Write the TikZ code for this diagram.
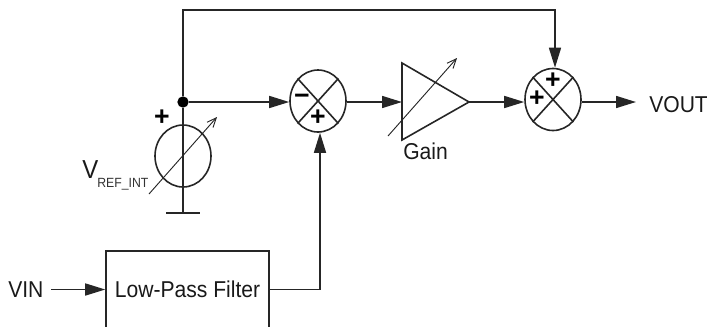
\documentclass[tikz,border=0pt]{standalone}
\usepackage{fontspec}
\setmainfont[FakeStretch=0.92]{Liberation Sans}
\newfontfamily\signfont{Liberation Sans}
\usetikzlibrary{arrows.meta,shapes.geometric}
\tikzset{
  wire/.style={line width=1.2pt,draw=black!85},
  flow/.style={wire,-{Triangle[length=15pt,width=9pt,sep=0pt]}},
  thin wire/.style={line width=0.7pt,draw=black!85,-{Straight Barb[length=7pt,width=6pt]}},
  sumnode/.style={ellipse,draw=black!85,line width=1.2pt,minimum width=42pt,minimum height=46.5pt,inner sep=0pt},
  lbl/.style={font=\fontsize{17.2}{20}\selectfont,inner sep=0pt,text=black!90},
  sign/.style={font=\signfont\fontsize{20}{22}\selectfont,inner sep=0pt},
  dotnode/.style={circle,fill=black,inner sep=0pt,minimum size=8.5pt}
}
\begin{document}
\begin{tikzpicture}[x=0.75pt,y=-0.75pt]
\useasboundingbox (0,0) rectangle (707,326);
\clip (0,0) rectangle (707,326);
% nodes
\node[dotnode] (dot) at (183,102) {};
\node[sumnode] (src) at (183,156) {};
\node[sumnode] (sum1) at (318,101) {};
\node[sumnode] (sum2) at (553,99.5) {};
\node[wire,draw,minimum width=122.2pt,minimum height=57.8pt,inner sep=0pt,lbl] (lpf) at (187.5,289.5) {Low-Pass Filter};
\coordinate (gt) at (402,63);
\coordinate (gb) at (402,140);
\coordinate (gtip) at (469,102);
\coordinate (gin) at (402,102);
\coordinate (fba) at (183,10);
\coordinate (fbb) at (555,10);
\coordinate (gnd) at (183,213);
\coordinate (gndl) at (166,213);
\coordinate (gndr) at (200,213);
\coordinate (turn) at (320,289.5);
\coordinate (vinend) at (51,289.5);
\coordinate (voutend) at (636,102);
\coordinate (sa) at (149,194);
\coordinate (sb) at (217,117);
\coordinate (ga) at (388,136);
\coordinate (gbb) at (457,58);
% crosses
\draw[wire] (sum1.north west) -- (sum1.south east);
\draw[wire] (sum1.north east) -- (sum1.south west);
\draw[wire] (sum2.north west) -- (sum2.south east);
\draw[wire] (sum2.north east) -- (sum2.south west);
% gain
\draw[wire,line join=miter] (gt) -- (gtip) -- (gb) -- cycle;
% connectors
\draw[wire] (dot) -- (gnd);
\draw[wire] (gndl) -- (gndr);
\draw[flow] (dot) -- (fba) -- (fbb) -- (fbb |- sum2.north);
\draw[flow] (dot) -- (dot -| sum1.west);
\draw[flow] (sum1.east |- gin) -- (gin);
\draw[flow] (gtip) -- (gtip -| sum2.west);
\draw[flow] (gtip -| sum2.east) -- (voutend);
\draw[flow] (lpf.east) -- (turn) -- (turn |- sum1.south);
\draw[flow] (vinend) -- (lpf.west);
\draw[thin wire] (sa) -- (sb);
\draw[thin wire] (ga) -- (gbb);
% labels
\node[sign] (p0) at (162,118) {\bfseries +};
\node[sign] (m1) at (302,99) {\bfseries −};
\node[sign] (p1) at (318,118) {\bfseries +};
\node[sign] (p2) at (553,81) {\bfseries +};
\node[sign] (p3) at (537,99) {\bfseries +};
\node[lbl,anchor=base west] (vin) at (8,297) {VIN};
\node[lbl,anchor=base west] (vout) at (649,112) {VOUT};
\node[lbl,anchor=base west] (gain) at (403,159) {Gain};
\node[font=\fontsize{19.5}{21}\selectfont,inner sep=0pt,anchor=base west,text=black!90] (vref) at (82,178) {V};
\node[font=\fontsize{10}{11}\selectfont,inner sep=0pt,anchor=base west,text=black!80] (vsub) at (97,187) {REF\_INT};
\end{tikzpicture}
\end{document}
